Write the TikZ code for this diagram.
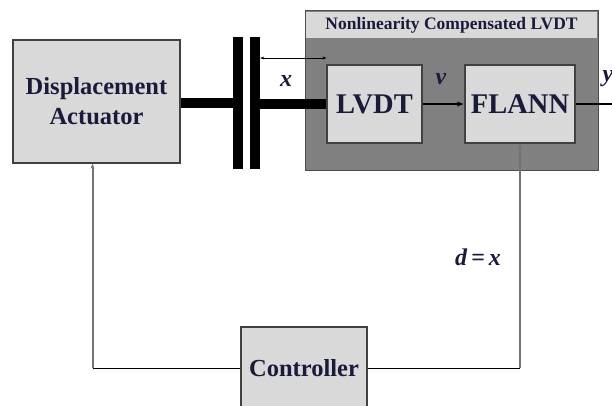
\documentclass[tikz,border=0pt]{standalone}
\usepackage{fontspec}
\setmainfont{Liberation Serif}
\usetikzlibrary{arrows.meta}
\definecolor{blockfill}{HTML}{D9D9D9}
\definecolor{panelfill}{HTML}{808080}
\definecolor{inknavy}{HTML}{1A1A3A}
\begin{document}
\begin{tikzpicture}[x=1pt,y=-1pt,
    blk/.style={rectangle,draw=black!75,line width=1.2pt,fill=blockfill,inner sep=0pt,
        text=inknavy,align=center,font=\fontsize{24.5}{30}\selectfont\bfseries},
    plate/.style={rectangle,fill=black,inner sep=0pt,minimum width=10pt,minimum height=132pt},
    lbl/.style={text=inknavy,font=\fontsize{24}{26}\selectfont\bfseries\itshape},
    fb/.style={draw=black!55,line width=2pt}]
    \useasboundingbox (0,0) rectangle (612,405);
    % panel round the compensated sensor
    \node[rectangle,draw=black!70,line width=1pt,fill=panelfill,minimum width=293pt,minimum height=160pt] at (451.5,90) (panel) {};
    \node[rectangle,fill=blockfill,inner sep=0pt,minimum width=291pt,minimum height=26pt,text=inknavy,
        font=\fontsize{17.5}{18}\selectfont\bfseries] at (451.5,25) (title) {Nonlinearity Compensated LVDT};
    % blocks
    \node[blk,minimum width=167pt,minimum height=123pt] at (96.5,101.5) (actuator) {Displacement\\Actuator};
    \node[blk,minimum width=95pt,minimum height=78pt,font=\fontsize{28.5}{30}\selectfont\bfseries] at (374.5,104) (lvdt) {LVDT};
    \node[blk,minimum width=110pt,minimum height=78pt,font=\fontsize{28.5}{30}\selectfont\bfseries] at (520,104) (flann) {FLANN};
    \node[blk,minimum width=126pt,minimum height=82pt] at (304,368) (controller) {Controller};
    \node[plate] at (238,103) (plateA) {};
    \node[plate] at (255,103) (plateB) {};
    % rod and signals
    \draw[line width=10pt] (plateA.west) -- (plateA.west -| actuator.east);
    \draw[line width=10pt] (plateB.east |- lvdt.west) -- (lvdt.west);
    \coordinate (gap) at (0,58);
    \draw[{Stealth[length=4pt]}-{Stealth[length=4pt]},line width=0.5pt] (plateB.east |- gap) -- (lvdt.west |- gap);
    \node[lbl] at (286,81) (xin) {x};
    \draw[line width=1.5pt,-{Latex[length=7pt]}] (lvdt.east) -- (flann.west);
    \node[lbl] at (441,79) (vsig) {v};
    \coordinate (out) at (614,104);
    \draw[line width=1.5pt] (flann.east) -- (out);
    \node[lbl] at (608,79) (yout) {y};
    % feedback loop
    \coordinate (fl) at ([xshift=-4pt]actuator.south |- controller.west);
    \draw[line width=1pt] (controller.west) -- (fl);
    \draw[fb,-{Stealth[length=5pt]}] (fl) -- ([xshift=-4pt]actuator.south);
    \coordinate (fr) at (flann.south |- controller.east);
    \draw[line width=1pt] (controller.east) -- (fr);
    \draw[fb,line width=2.5pt,-{Stealth[length=5pt]}] (fr) -- (flann.south);
    \node[lbl,font=\fontsize{24}{26}\selectfont\bfseries] at (478,257) (err) {\textit{d}\,=\,\textit{x}};
\end{tikzpicture}
\end{document}
